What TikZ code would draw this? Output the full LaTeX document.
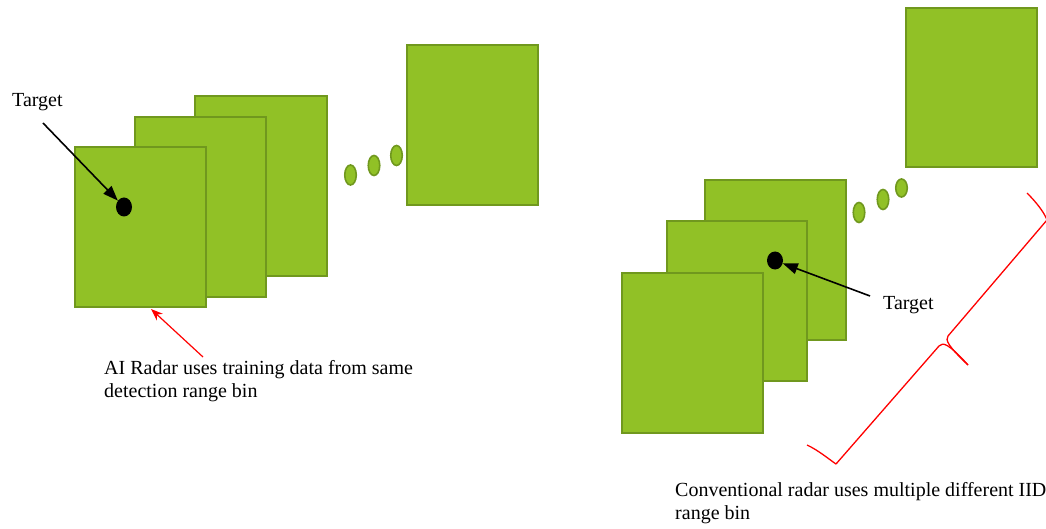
\documentclass[tikz,border=0pt]{standalone}
\usepackage{fontspec}
\setmainfont{Liberation Serif}
\usetikzlibrary{shapes.geometric,arrows.meta}
\definecolor{panelgreen}{RGB}{145,193,38}
\definecolor{paneledge}{RGB}{112,152,30}
\begin{document}
\begin{tikzpicture}[x=1pt,y=-1pt,
  panel/.style={draw=paneledge,fill=panelgreen,line width=1.5pt,inner sep=0pt,minimum width=131pt},
  gdot/.style={ellipse,draw=paneledge,fill=panelgreen,line width=1.6pt,inner sep=0pt,minimum width=11.5pt,minimum height=20pt},
  tdot/.style={ellipse,fill=black,inner sep=0pt,minimum width=16pt,minimum height=19pt},
  lbl/.style={font=\fontsize{20}{23.5}\selectfont,inner sep=0pt},
  tarrow/.style={draw=black,line width=1.6pt,-{Triangle[length=15pt,width=11pt]}},
  rarrow/.style={draw=red,line width=1.2pt,-{Stealth[length=12pt,width=9pt]}},
  bracepath/.style={draw=red,line width=1.3pt,line join=round}]
\useasboundingbox (0,0) rectangle (1046,529);
% left stack
\node[panel,minimum width=132pt,minimum height=180pt] (lback) at (261,186) {};
\node[panel,minimum height=180pt] (lmid) at (200.5,207) {};
\node[panel,minimum height=160pt] (lfront) at (140.5,227) {};
\node[panel,minimum height=160pt] (lfar) at (472.5,125) {};
\node[gdot] (ld1) at (350.5,175) {};
\node[gdot] (ld2) at (374,165.5) {};
\node[gdot] (ld3) at (396.5,155.5) {};
\node[tdot] (ltgt) at (124,207) {};
\node[lbl,anchor=base west] (ltlabel) at (12,107) {Target};
\coordinate (lastart) at (43,123);
\draw[tarrow] (lastart) -- (ltgt);
\coordinate (rastart) at (203,357);
\coordinate (raend) at (151,309);
\draw[rarrow] (rastart) -- (raend);
\node[lbl,anchor=north west,align=left] (lcap) at (104,360) {AI Radar uses training data from same\\detection range bin};
% right stack
\node[panel,minimum height=159pt] (rfar) at (971.5,87.5) {};
\node[panel,minimum width=141pt,minimum height=160pt] (rback) at (775.5,260) {};
\node[panel,minimum width=140pt,minimum height=160pt] (rmid) at (737,301) {};
\node[panel,minimum width=141pt,minimum height=160pt] (rfront) at (692.5,353) {};
\node[gdot] (rd1) at (859,212.5) {};
\node[gdot] (rd2) at (883,199.5) {};
\node[gdot,minimum height=18pt] (rd3) at (901.5,188) {};
\node[tdot,minimum height=18pt] (rtgt) at (775,260.5) {};
\node[lbl,anchor=base west] (rtlabel) at (883,309) {Target};
\coordinate (rtstart) at (870,296);
\draw[tarrow] (rtstart) -- (rtgt);
% brace
\draw[bracepath] (1027,193) .. controls (1036,202) and (1044,212) .. (1047,220)
  -- (948,336) .. controls (945,340) and (948,346) .. (968,365);
\draw[bracepath] (807,445) .. controls (818,450) and (830,460) .. (836,464)
  -- (939,346) .. controls (943,342) and (948,343) .. (968,365);
\node[lbl,anchor=north west,align=left] (rcap) at (675,482) {Conventional radar uses multiple different IID\\range bin};
\end{tikzpicture}
\end{document}
